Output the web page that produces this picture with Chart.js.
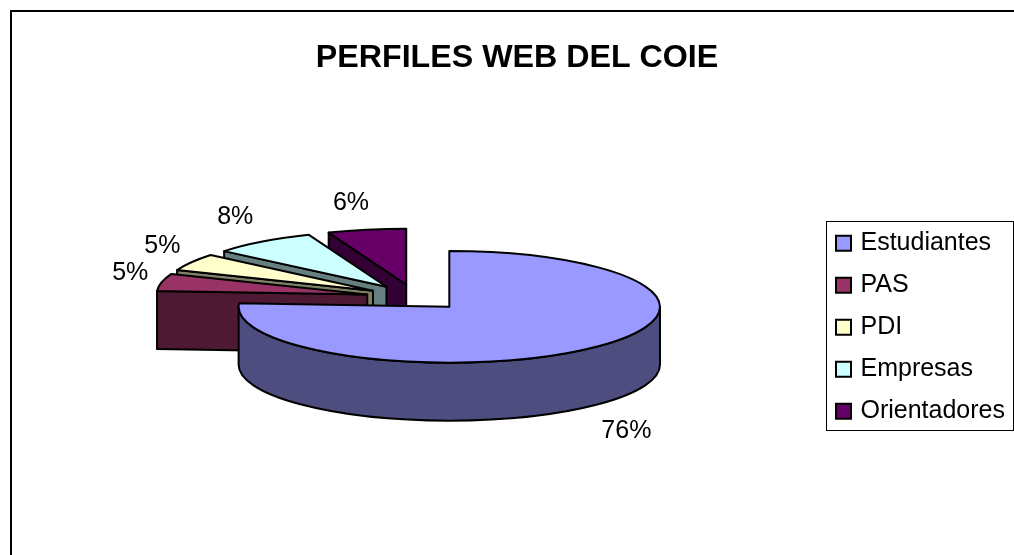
<!DOCTYPE html>
<html>
    <head>
        <meta charset="utf-8"/>
        <title>PERFILES WEB DEL COIE</title>
        <script src="https://cdnjs.cloudflare.com/ajax/libs/Chart.js/4.4.1/chart.umd.min.js"></script>
        <style>
            html, body { margin: 0; padding: 0; width: 1014px; height: 555px; overflow: hidden; background: #fff; }
            #frame { position: absolute; left: 10px; top: 10px; width: 1010px; height: 560px; border: 2px solid #000; }
            canvas { display: block; }
        </style>
    </head>

    <body>
        <div id="frame">
            <canvas id="chart" width="1010" height="553"></canvas>
        </div>

        <script>
            var categories = ['Estudiantes', 'PAS', 'PDI', 'Empresas', 'Orientadores'];
            var shares = [76, 5, 5, 8, 6];
            var topColors = ['#9999FF', '#993366', '#FFFFCC', '#CCFFFF', '#660066'];
            var wallColors = ['#4D4D80', '#4D1933', '#808066', '#668080', '#330033'];

            // fake 3d view of the flat pie
            var squashY = 0.265;
            var depth = 58;
            var shiftX = -5;
            var liftY = -30;
            var explodeScale = 0.95;
            var labelNudgeX = [8, 4, 2, -6, -9];
            var labelNudgeY = [3, -2, 0, 1, 4];

            var fontName = '"Liberation Sans", Arial, sans-serif';

            var pie3d = {
                id: 'pie3d',
                beforeDatasetsDraw: function(chart) {
                    var ctx = chart.ctx;
                    var arcs = chart.getDatasetMeta(0).data;
                    var total = shares.reduce(function(a, b) { return a + b; }, 0);

                    ctx.save();
                    ctx.lineWidth = 2;
                    ctx.lineJoin = 'round';
                    ctx.strokeStyle = '#000';

                    // back slices first, the big one goes on top of them
                    for (var i = arcs.length - 1; i >= 0; i--) {
                        var arc = arcs[i];
                        var a0 = arc.startAngle;
                        var a1 = arc.endAngle;
                        var mid = (a0 + a1) / 2;
                        var rx = arc.outerRadius;
                        var ry = arc.outerRadius * squashY;
                        var off = arc.options.offset * explodeScale;
                        var ax = arc.x + shiftX + Math.cos(mid) * off;
                        var ay = arc.y + liftY + Math.sin(mid) * off * squashY;

                        ctx.fillStyle = wallColors[i];
                        if (Math.cos(a0) < 0) radialWall(ctx, ax, ay, rx, ry, a0);
                        if (Math.cos(a1) > 0) radialWall(ctx, ax, ay, rx, ry, a1);

                        // rim, only the part that faces the viewer
                        var r0 = Math.max(a0, 0);
                        var r1 = Math.min(a1, Math.PI);
                        if (r1 > r0) {
                            ctx.beginPath();
                            ctx.ellipse(ax, ay, rx, ry, 0, r0, r1);
                            ctx.ellipse(ax, ay + depth, rx, ry, 0, r1, r0, true);
                            ctx.closePath();
                            ctx.fill();
                            ctx.stroke();
                        }

                        ctx.fillStyle = topColors[i];
                        ctx.beginPath();
                        ctx.moveTo(ax, ay);
                        ctx.ellipse(ax, ay, rx, ry, 0, a0, a1);
                        ctx.closePath();
                        ctx.fill();
                        ctx.stroke();
                    }

                    ctx.fillStyle = '#000';
                    ctx.font = '25px ' + fontName;
                    ctx.textAlign = 'center';
                    ctx.textBaseline = 'middle';
                    for (var j = 0; j < arcs.length; j++) {
                        var a = arcs[j];
                        var m = (a.startAngle + a.endAngle) / 2;
                        var o = a.options.offset;
                        var px = a.x + shiftX + Math.cos(m) * (o + a.outerRadius * 1.16);
                        var py = a.y + liftY + Math.sin(m) * (o * squashY + a.outerRadius * squashY * 1.55);
                        if (Math.sin(m) > 0) py += depth;
                        ctx.fillText(Math.round(shares[j] / total * 100) + '%', px + labelNudgeX[j], py + labelNudgeY[j]);
                    }
                    ctx.restore();
                    return false;
                },
                afterDraw: function(chart) {
                    // box around the legend entries
                    var hits = chart.legend.legendHitBoxes;
                    var first = hits[0];
                    var last = hits[hits.length - 1];
                    var left = Math.round(first.left) - 13;
                    var top = Math.round(first.top) - 10;
                    var bottom = Math.round(last.top + last.height) + 6;
                    var ctx = chart.ctx;
                    ctx.save();
                    ctx.strokeStyle = '#000';
                    ctx.lineWidth = 1;
                    ctx.strokeRect(left + 0.5, top + 0.5, 187, bottom - top);
                    ctx.restore();
                }
            };

            function radialWall(ctx, ax, ay, rx, ry, angle) {
                var ex = ax + Math.cos(angle) * rx;
                var ey = ay + Math.sin(angle) * ry;
                ctx.beginPath();
                ctx.moveTo(ax, ay);
                ctx.lineTo(ex, ey);
                ctx.lineTo(ex, ey + depth);
                ctx.lineTo(ax, ay + depth);
                ctx.closePath();
                ctx.fill();
                ctx.stroke();
            }

            var myChart = new Chart(document.getElementById('chart'), {
                type: 'pie',
                data: {
                    labels: categories,
                    datasets: [{
                        data: shares,
                        backgroundColor: topColors,
                        borderColor: '#000',
                        borderWidth: 2,
                        offset: 52
                    }]
                },
                options: {
                    responsive: false,
                    animation: false,
                    layout: { padding: { left: 7, right: 7 } },
                    plugins: {
                        title: {
                            display: true,
                            text: 'PERFILES WEB DEL COIE',
                            color: '#000',
                            font: { family: fontName, size: 32.2, weight: 'bold' },
                            padding: { top: 27, bottom: 12 }
                        },
                        legend: {
                            position: 'right',
                            fullSize: false,
                            labels: {
                                color: '#000',
                                font: { family: fontName, size: 25 },
                                usePointStyle: true,
                                pointStyle: 'rect',
                                boxWidth: 9,
                                boxHeight: 15,
                                padding: 17
                            }
                        },
                        tooltip: { enabled: false }
                    }
                },
                plugins: [pie3d]
            });
        </script>
    </body>
</html>
